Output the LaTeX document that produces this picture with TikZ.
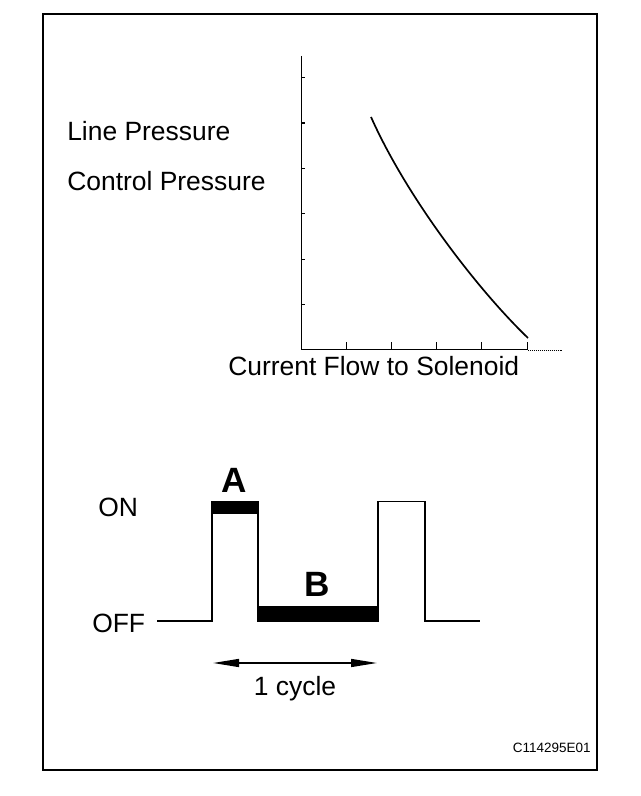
\documentclass[tikz,border=0pt]{standalone}
\usepackage{fontspec}
\setmainfont{Liberation Sans}
\usepackage{tikz}
\usetikzlibrary{arrows.meta, calc, positioning}

\begin{document}
\begin{tikzpicture}[>={Triangle[length=6.5mm,width=2mm]},
		txt/.style={inner sep=0pt, anchor=base west, font=\fontsize{18.8}{22}\selectfont},
		letter/.style={inner sep=0pt, anchor=base, font=\fontsize{25}{30}\selectfont\bfseries},
		wave/.style={line width=1.3pt, line join=miter}]
	\useasboundingbox (0,0) rectangle (16,19.9);
	\draw[line width=1.4pt] (1.075,0.65) rectangle (14.925,19.55);
	
	% pressure curve
	\coordinate (o) at (7.525,11.15);
	\draw[line width=0.7pt] (7.525,18.5) -- (o) -- (13.2,11.15); \draw[densely dotted, line width=0.4pt] (13.2,11.15) -- (14.05,11.15);
	\foreach \k in {1,...,6} \draw[line width=0.8pt] ($(o)+(0,1.135*\k)$) -- ++(0.1,0);
	\foreach \k in {1,...,5} \draw[line width=0.7pt] ($(o)+(1.13*\k,0)$) -- ++(0,0.2);
	\draw[line width=1.2pt] (9.275,16.975) .. controls (10.2,14.9) and (12.0,12.6) .. (13.2,11.45);
	\node[txt] (line) at (1.675,16.375) {Line Pressure};
	\node[txt] (control) at (1.675,15.125) {Control Pressure};
	\node[txt] (current) at (5.7,10.5) {Current Flow to Solenoid};
	
	% duty signal
	\node[txt] (on) at (2.45,6.975) {ON};
	\node[txt] (off) at (2.3,4.075) {OFF};
	\fill (5.3,7.0375) rectangle (6.45,7.3625);
	\fill (6.45,4.375) rectangle (9.45,4.75);
	\draw[wave] (3.925,4.375) -- (5.3,4.375) -- (5.3,7.3625) -- (6.45,7.3625) -- (6.45,4.375) -- (9.45,4.375) -- (9.45,7.3625) -- (10.625,7.3625) -- (10.625,4.375) -- (12.0,4.375);
	\node[letter] (a) at (5.8625,7.575) {A};
	\node[letter] (b) at (7.9375,4.975) {B};
	
	\coordinate (cl) at (5.325,3.325); \coordinate (cr) at (9.425,3.325);
	\draw[<->, line width=1pt] (cl) -- (cr);
	\node[txt, anchor=base] (cycle) at (7.375,2.5) {1 cycle};
	
	\node[inner sep=0pt, anchor=base east, font=\fontsize{9.6}{11}\selectfont] (code) at (14.775,1.075) {C114295E01};
\end{tikzpicture}
\end{document}
